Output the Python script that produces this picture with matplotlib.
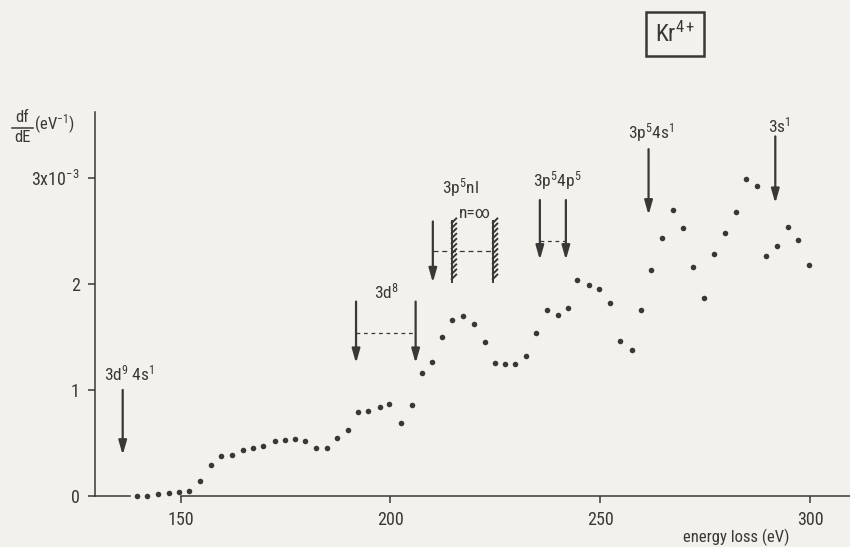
import matplotlib
matplotlib.use('Agg')
import matplotlib.pyplot as plt
import matplotlib.patheffects as pe
from matplotlib import font_manager as fm

# ---------------- data ----------------
energy = [139.5, 142.1, 144.7, 147.2, 149.6, 152.1, 154.6, 157.2, 159.6, 162.2,
          164.8, 167.3, 169.7, 172.4, 174.9, 177.3, 179.7, 182.2, 184.8, 187.2,
          190.0, 192.3, 194.7, 197.5, 199.7, 202.4, 205.2, 207.6, 209.9, 212.4,
          214.7, 217.3, 219.8, 222.6, 224.9, 227.3, 229.7, 232.2, 234.6, 237.2,
          239.9, 242.2, 244.5, 247.4, 249.7, 252.3, 254.7, 257.5, 259.8, 262.2,
          264.6, 267.4, 269.8, 272.2, 274.7, 277.1, 279.8, 282.3, 284.8, 287.3,
          289.6, 292.0, 294.8, 297.2, 299.7]
dfde = [0.003, 0.003, 0.016, 0.025, 0.040, 0.047, 0.14, 0.29, 0.38, 0.39,
        0.43, 0.45, 0.47, 0.52, 0.53, 0.54, 0.52, 0.45, 0.45, 0.55,
        0.62, 0.79, 0.80, 0.84, 0.87, 0.69, 0.86, 1.16, 1.26, 1.50,
        1.66, 1.70, 1.62, 1.45, 1.25, 1.24, 1.24, 1.32, 1.54, 1.75,
        1.71, 1.77, 2.04, 1.99, 1.95, 1.82, 1.46, 1.38, 1.75, 2.13,
        2.43, 2.70, 2.53, 2.16, 1.87, 2.28, 2.48, 2.68, 2.99, 2.92,
        2.26, 2.36, 2.54, 2.41, 2.18]

xticks = [150, 200, 250, 300]
yticks = [0, 1, 2, 3]
ytick_labels = ['0', '1', '2', '3x10$^{-3}$']

# threshold arrows: energy, top, tip
arrow_x = [136.2, 191.8, 206.0, 210.1, 235.6, 241.8, 261.5, 291.7]
arrow_top = [1.00, 1.833, 1.833, 2.588, 2.79, 2.79, 3.27, 3.39]
arrow_tip = [0.387, 1.252, 1.252, 2.012, 2.226, 2.226, 2.65, 2.76]

# series limits (hatched lines, n = infinity)
limit_x = [214.6, 224.4]
limit_top = 2.597
limit_bot = 2.022

# dashed connectors: x0, x1, y
dash_3d8 = (191.8, 206.0, 1.54)
dash_nl = (210.1, 224.4, 2.311)
dash_4p = (235.6, 241.8, 2.406)

labels = ['3d$^9$ 4s$^1$', '3d$^8$', '3p$^5$nl', 'n=∞', '3p$^5$4p$^5$', '3p$^5$4s$^1$', '3s$^1$']
label_x = [137.7, 199.1, 216.8, 220.2, 239.8, 262.2, 292.6]
label_y = [1.16, 1.93, 2.91, 2.665, 2.97, 3.43, 3.49]

# ---------------- style ----------------
avail = {f.name for f in fm.fontManager.ttflist}
main = next((f for f in ['Liberation Sans Narrow', 'DejaVu Sans Condensed', 'Roboto Condensed', 'DejaVu Sans']
             if f in avail), 'DejaVu Sans')
plt.rcParams['font.family'] = [main, 'DejaVu Sans']
plt.rcParams['mathtext.fontset'] = 'custom'
plt.rcParams['mathtext.rm'] = main
plt.rcParams['mathtext.it'] = main
plt.rcParams['mathtext.bf'] = main

ink = '#3a3836'
bg = '#f3f1eb'

W, H = 850, 547
fig = plt.figure(figsize=(W / 100, H / 100), dpi=100, facecolor=bg)
left, right, bottom, top = 95, 850, 496, 112
ax = fig.add_axes([left / W, 1 - bottom / H, (right - left) / W, (bottom - top) / H])
ax.set_facecolor(bg)
ax.set_xlim(129.6, 309.5)
ax.set_ylim(0, 3.62)

for s in ['top', 'right']:
    ax.spines[s].set_visible(False)
for s in ['left', 'bottom']:
    ax.spines[s].set_color(ink)
    ax.spines[s].set_linewidth(1.1)
ax.spines['bottom'].set_bounds(150, 309.5)
ax.axhline(0, xmin=0, xmax=(137.9 - 129.6) / (309.5 - 129.6), color=ink, lw=1.1, clip_on=False)

ax.set_xticks(xticks)
ax.set_xticklabels([str(v) for v in xticks])
ax.set_yticks(yticks)
ax.set_yticklabels(ytick_labels)
ax.tick_params(direction='out', length=5, width=1.1, color=ink, labelcolor=ink, labelsize=13)
ax.tick_params(axis='x', pad=6)
ax.tick_params(axis='y', pad=6)

# data points
ax.plot(energy, dfde, 'o', ms=4.0, color=ink, mec='none', clip_on=False, zorder=3)

# arrows
for x, yt, yb in zip(arrow_x, arrow_top, arrow_tip):
    ax.annotate('', xy=(x, yb), xytext=(x, yt),
                arrowprops=dict(arrowstyle='-|>,head_length=0.7,head_width=0.2', lw=1.6,
                                color=ink, shrinkA=0, shrinkB=0, mutation_scale=12))

# hatched limit lines
for x in limit_x:
    ax.plot([x, x], [limit_top, limit_bot], color=ink, lw=1.4,
            path_effects=[pe.withTickedStroke(spacing=3.5, angle=135, length=1.3)])

# dashed connectors
ax.plot(dash_3d8[:2], [dash_3d8[2]] * 2, color=ink, lw=0.9, ls=(0, (3, 3)))
ax.plot(dash_nl[:2], [dash_nl[2]] * 2, color=ink, lw=0.9, ls=(0, (4, 3)))
ax.plot(dash_4p[:2], [dash_4p[2]] * 2, color=ink, lw=0.9, ls=(0, (3, 3)))

for t, x, y in zip(labels, label_x, label_y):
    ax.text(x, y, t, ha='center', va='center', fontsize=12.5, color=ink)

# axis titles
fig.text(22 / W, 1 - 118 / H, 'df', ha='center', va='center', fontsize=12, color=ink)
fig.text(22 / W, 1 - 138 / H, 'dE', ha='center', va='center', fontsize=12, color=ink)
fig.add_artist(plt.Line2D([12 / W, 33 / W], [1 - 128 / H, 1 - 128 / H], color=ink, lw=1.1))
fig.text(34 / W, 1 - 124 / H, '(eV$^{-1}$)', ha='left', va='center', fontsize=12, color=ink)
fig.text(736 / W, 1 - 537 / H, 'energy loss (eV)', ha='center', va='center', fontsize=12, color=ink)

# ion label
fig.text(675 / W, 1 - 34 / H, 'Kr$^{4+}$', ha='center', va='center', fontsize=17, color=ink,
         bbox=dict(boxstyle='square,pad=0.38', fc='none', ec=ink, lw=1.8))

fig.savefig('out.png', dpi=100, facecolor=bg)
